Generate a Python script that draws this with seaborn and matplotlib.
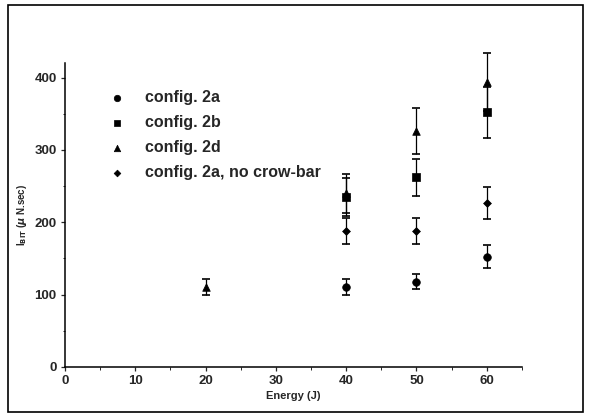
import matplotlib
matplotlib.use("Agg")
import matplotlib.pyplot as plt
import matplotlib.patches as mpatches
from matplotlib.ticker import MultipleLocator
import numpy as np
import pandas as pd
import seaborn as sns

# Impulse bit versus discharge energy, four electrode configurations
series_names = ["config. 2a", "config. 2b", "config. 2d", "config. 2a, no crow-bar"]

energy_2a = [40, 50, 60]
ibit_2a = [110, 118, 152]
err_2a = [11, 11, 16]

energy_2b = [40, 50, 60]
ibit_2b = [235, 262, 352]
err_2b = [26, 26, 35]

energy_2d = [20, 40, 50, 60]
ibit_2d = [111, 240, 326, 394]
err_2d = [11, 27, 32, 40]

energy_ncb = [40, 50, 60]
ibit_ncb = [188, 188, 226]
err_ncb = [18, 18, 22]

x_ticks = [0, 10, 20, 30, 40, 50, 60]
y_ticks = [0, 100, 200, 300, 400]

sns.set_style("ticks")
plt.rcParams["font.family"] = ["Liberation Sans", "DejaVu Sans"]
plt.rcParams["font.weight"] = "bold"

frames = []
for name, e, v, er in [
    (series_names[0], energy_2a, ibit_2a, err_2a),
    (series_names[1], energy_2b, ibit_2b, err_2b),
    (series_names[2], energy_2d, ibit_2d, err_2d),
    (series_names[3], energy_ncb, ibit_ncb, err_ncb),
]:
    frames.append(pd.DataFrame({"energy": e, "ibit": v, "err": er, "config": name}))
df = pd.concat(frames, ignore_index=True)

fig = plt.figure(figsize=(5.91, 4.15), dpi=100)
ax = fig.add_axes([0.110, 0.116, 0.773, 0.732])

line_styles = {
    series_names[0]: "-",
    series_names[1]: "-.",
    series_names[2]: "-",
    series_names[3]: "-",
}
for name, sub in df.groupby("config", sort=False):
    eb = ax.errorbar(sub["energy"], sub["ibit"], yerr=sub["err"], fmt="none",
                     ecolor="black", elinewidth=0.9, capsize=3.2, capthick=1.2,
                     linestyle=line_styles[name], zorder=2)
    for artist in eb.get_children():
        artist.set_clip_on(False)

markers = {
    series_names[0]: "o",
    series_names[1]: "s",
    series_names[2]: "^",
    series_names[3]: "D",
}
sizes = {
    series_names[0]: 30,
    series_names[1]: 26,
    series_names[2]: 30,
    series_names[3]: 16,
}
for name, sub in df.groupby("config", sort=False):
    sns.scatterplot(data=sub, x="energy", y="ibit", marker=markers[name],
                    s=sizes[name], color="black", edgecolor="black",
                    linewidth=0.5, ax=ax, label=name, zorder=3)

ax.set_xlim(0, 65)
ax.set_ylim(0, 420)
ax.set_xticks(x_ticks)
ax.set_yticks(y_ticks)
ax.xaxis.set_minor_locator(MultipleLocator(5))
ax.yaxis.set_minor_locator(MultipleLocator(50))
ax.tick_params(axis="both", which="major", direction="out", length=3,
               width=0.9, labelsize=9.5, pad=3)
ax.tick_params(axis="both", which="minor", direction="out", length=1.8,
               width=0.7)
for lab in ax.get_xticklabels() + ax.get_yticklabels():
    lab.set_fontweight("bold")

for side in ["top", "right"]:
    ax.spines[side].set_visible(False)
for side in ["left", "bottom"]:
    ax.spines[side].set_linewidth(1.1)
    ax.spines[side].set_color("black")

ax.set_xlabel("Energy (J)", fontsize=8, fontweight="bold", labelpad=3)
ax.set_ylabel(r"I$_{\mathbf{BIT}}$ ($\mu$ N.sec)", fontsize=7,
              fontweight="bold", labelpad=4)

leg = ax.legend(loc="upper left", bbox_to_anchor=(0.079, 0.912), frameon=False,
                fontsize=11.5, handlelength=2.0, handletextpad=0.75,
                labelspacing=0.63, borderaxespad=0, borderpad=0,
                markerscale=0.85)
for t in leg.get_texts():
    t.set_fontweight("bold")

# Frame drawn around the whole figure
fig.patches.append(mpatches.Rectangle((0.014, 0.008), 0.973, 0.980,
                                      transform=fig.transFigure, fill=False,
                                      edgecolor="black", linewidth=1.2))

fig.savefig("out.png", dpi=100, facecolor="white")
